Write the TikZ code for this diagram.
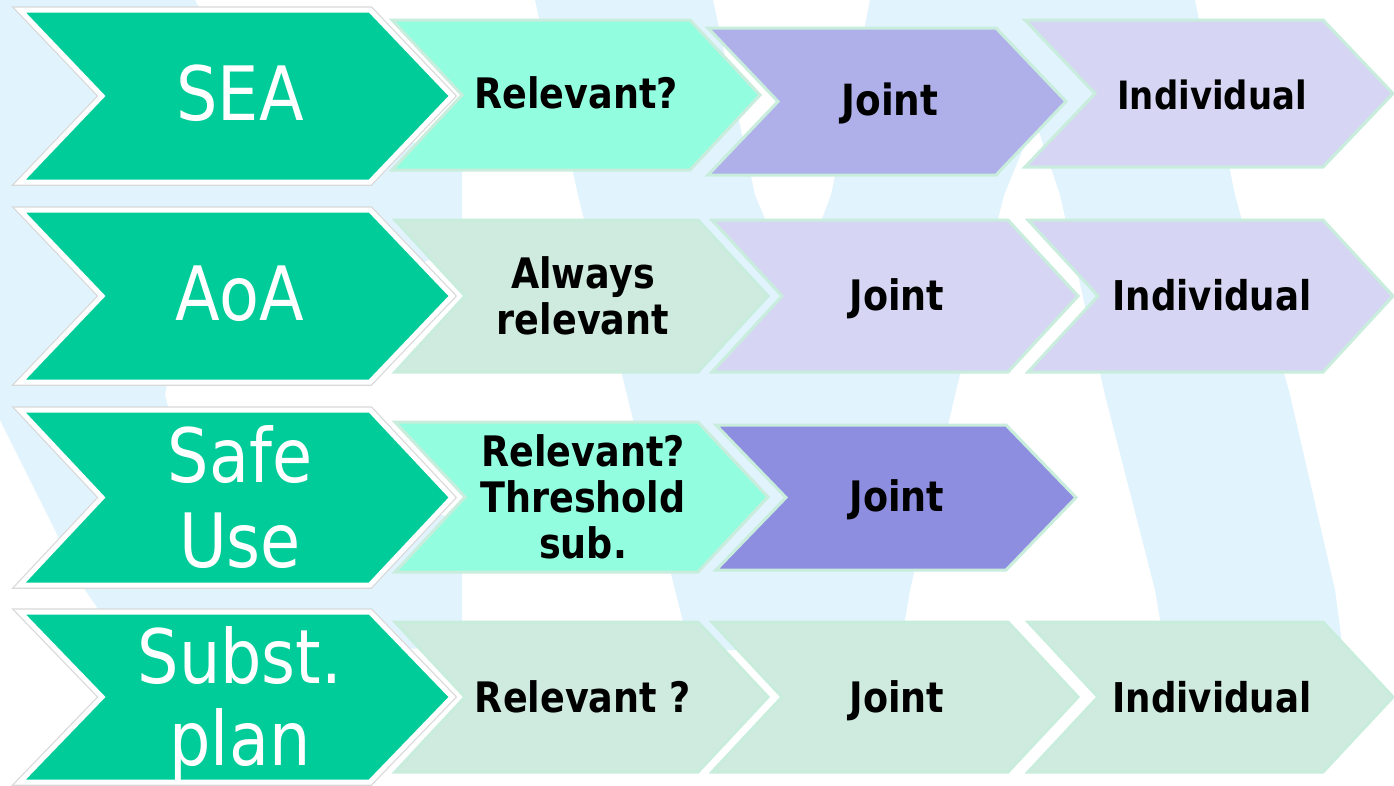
\documentclass[tikz,border=0pt]{standalone}
\usepackage{fontspec}
\newfontfamily\chevfont[FakeStretch=0.87]{DejaVu Sans}
\definecolor{sgreen}{HTML}{00CC99}
\definecolor{aqua}{HTML}{93FDE0}
\definecolor{palegreen}{HTML}{CFEBDF}
\definecolor{lavmid}{HTML}{AFB0EA}
\definecolor{lavpale}{HTML}{D6D6F4}
\definecolor{purplemid}{HTML}{8E8EE0}
\definecolor{bgblue}{HTML}{E1F3FD}
\definecolor{mint}{HTML}{C8EDDC}
\newcommand{\mychev}[6]{%
  \path[#1] (#2,#3) -- ({#4-#6},#3) -- (#4,{(#3+#5)/2}) -- ({#4-#6},#5) -- (#2,#5) -- ({#2+#6},{(#3+#5)/2}) -- cycle;}
\tikzset{
  greenshadow/.style={draw=black!15, line width=7.5pt, line join=miter},
  greenchev/.style={fill=sgreen, draw=white, line width=5pt, line join=miter},
  boxchev/.style={fill=#1, draw=mint, line width=3pt, line join=miter},
  wlab/.style={text=white, font=\chevfont\fontsize{75}{85}\selectfont, align=center, inner sep=0pt},
  blab/.style={text=black, font=\chevfont\bfseries\fontsize{42}{46}\selectfont, align=center, inner sep=0pt},
}
\begin{document}
\begin{tikzpicture}[x=1pt,y=-1pt]
\useasboundingbox (0,0) rectangle (1394,785);
\fill[white] (0,0) rectangle (1394,785);
% faded background pattern
\fill[bgblue] (0,0) -- (195,0) -- (260,120) -- (462,150) -- (462,250) -- (175,340) -- (165,395) -- (180,450) -- (462,520) -- (462,650) -- (120,640) -- (85,590) -- (0,420) -- cycle;
\fill[bgblue] (870,0) -- (1195,0) -- (1235,195) -- (1290,395) -- (1335,590) -- (1343,650) -- (1165,650) -- (1155,590) -- (1105,395) -- (1060,195) -- (1035,120) -- (1004,195) -- (955,395) -- (910,590) -- (900,650) -- (690,650) -- (675,590) -- (627,395) -- (578,195) -- (535,0) -- (713,0) -- (755,195) -- (795,290) -- (831,195) -- cycle;

% ---------- row 1 ----------
\mychev{boxchev=lavpale}{1025}{20}{1393}{167}{70}
\mychev{boxchev=lavmid}{708}{28}{1066}{175}{70}
\mychev{boxchev=aqua}{392}{20}{760}{170}{70}
\mychev{greenshadow}{20}{10}{452}{182}{82}
\mychev{greenchev}{20}{10}{452}{182}{82}
\node[wlab, anchor=base] (sea) at (240,120) {SEA};
\node[blab, anchor=base] (rel1) at (576,108) {Relevant?};
\node[blab, anchor=base, font=\chevfont\bfseries\fontsize{43}{46}\selectfont] (joint1) at (890,115) {Joint};
\node[blab, anchor=base, font=\chevfont\bfseries\fontsize{39}{46}\selectfont] (ind1) at (1212,109) {Individual};

% ---------- row 2 ----------
\mychev{boxchev=lavpale}{1028}{220}{1393}{372}{70}
\mychev{boxchev=lavpale}{712}{220}{1078}{372}{70}
\mychev{boxchev=palegreen}{395}{220}{768}{372}{70}
\mychev{greenshadow}{20}{210}{452}{382}{82}
\mychev{greenchev}{20}{210}{452}{382}{82}
\node[wlab, anchor=base] (aoa) at (240,320) {AoA};
\node[blab] (alw) at (583,296) {Always\\relevant};
\node[blab, anchor=base] (joint2) at (897,310) {Joint};
\node[blab, anchor=base, font=\chevfont\bfseries\fontsize{41}{46}\selectfont] (ind2) at (1212,310) {Individual};

% ---------- row 3 ----------
\mychev{boxchev=purplemid}{716}{425}{1076}{570}{70}
\mychev{boxchev=aqua}{395}{422}{768}{572}{70}
\mychev{greenshadow}{20}{410}{452}{585}{82}
\mychev{greenchev}{20}{410}{452}{585}{82}
\node[wlab] (safe) at (240,497) {Safe\\Use};
\node[blab] (rel3) at (583,497) {Relevant?\\Threshold\\sub.};
\node[blab, anchor=base] (joint3) at (897,511) {Joint};

% ---------- row 4 ----------
\mychev{boxchev=palegreen}{1028}{622}{1393}{772}{70}
\mychev{boxchev=palegreen}{712}{622}{1078}{772}{70}
\mychev{boxchev=palegreen}{395}{622}{768}{772}{70}
\mychev{greenshadow}{20}{612}{452}{782}{82}
\mychev{greenchev}{20}{612}{452}{782}{82}
\node[wlab, font=\chevfont\fontsize{75}{82}\selectfont] (subst) at (240,704) {Subst.\\plan};
\node[blab, anchor=base] (rel4) at (583,712) {Relevant ?};
\node[blab, anchor=base] (joint4) at (897,712) {Joint};
\node[blab, anchor=base, font=\chevfont\bfseries\fontsize{41}{46}\selectfont] (ind4) at (1212,712) {Individual};
\end{tikzpicture}
\end{document}
